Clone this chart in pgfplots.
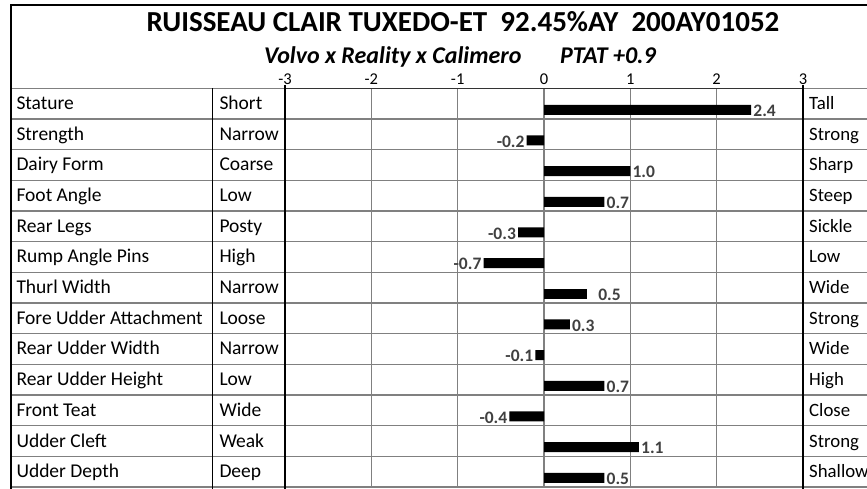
\documentclass[border=0pt]{standalone}
\usepackage{pgfplots}
\pgfplotsset{compat=1.18}
\usepackage{pgfplotstable}
\usepackage{fontspec}
\setmainfont{Carlito}
\definecolor{gridgray}{RGB}{128,128,128}
\definecolor{lblgray}{RGB}{64,64,64}

% y = row position (row index + 0.7), x = value, lbl = data label
\pgfplotstableread{
pos  val   lbl
0.7  2.4   2.4
2.7  1.0   1.0
3.7  0.7   0.7
7.7  0.3   0.3
9.7  0.7   0.7
11.7 1.1   1.1
12.7 0.7   0.5
}\pos
\pgfplotstableread{
pos  val   lbl
6.7  0.5   0.5
}\thurl
\pgfplotstableread{
pos  val   lbl
1.7  -0.2  -0.2
4.7  -0.3  -0.3
5.7  -0.7  -0.7
8.7  -0.1  -0.1
10.7 -0.4  -0.4
}\neg

\begin{document}
\begin{tikzpicture}
\useasboundingbox (0pt,0pt) rectangle (867pt,-489pt);

\begin{axis}[
  at={(285pt,-487pt)}, anchor=south west,
  width=518pt, height=398.7pt, scale only axis,
  xmin=-3, xmax=3, ymin=0, ymax=13, y dir=reverse,
  axis line style={draw=none},
  xtick={-3,-2,-1,0,1,2,3}, ytick=\empty,
  xticklabel pos=upper,
  major tick length=0pt,
  xmajorgrids, grid style={gridgray, line width=1.2pt},
  /pgf/number format/assume math mode=true,
  xticklabel style={font=\fontsize{16.5}{19}\selectfont, inner sep=0pt, anchor=south},
  xticklabel shift=3.3pt,
  xbar, bar width=10pt, bar shift=0pt,
  point meta=explicit symbolic,
  nodes near coords,
  every node near coord/.append style={font=\fontsize{17.5}{20}\selectfont\bfseries, text=lblgray, inner sep=2pt, yshift=-1pt},
  clip=false,
]
\addplot[fill=black, draw=none, nodes near coords style={anchor=west}] table[x=val, y=pos, meta=lbl] {\pos};
\addplot[fill=black, draw=none, nodes near coords style={anchor=west, xshift=9pt}] table[x=val, y=pos, meta=lbl] {\thurl};
\addplot[fill=black, draw=none, nodes near coords style={anchor=east}] table[x=val, y=pos, meta=lbl] {\neg};
\end{axis}

\begin{scope}[x=1pt, y=-1pt]
  % row lines
  \foreach \k in {0,...,13} {
    \draw[gridgray, line width=1.3pt] (11, {88.3+30.67*\k}) -- (867, {88.3+30.67*\k});
  }
  \draw[black!80, line width=1.3pt] (285, 88.3) -- (803, 88.3);
  % vertical column lines
  \draw[black, line width=1.3pt] (212.7, 88.3) -- (212.7, 489);
  \draw[black, line width=1.3pt] (285, 85) -- (285, 489);
  \draw[black, line width=1.3pt] (803, 85) -- (803, 489);
  % outer frame
  \draw[black, line width=2.6pt] (11, 489) -- (11, 5) -- (867, 5);

  % titles
  \node[anchor=base, inner sep=0pt, font=\fontsize{29}{34}\selectfont\bfseries]
    at (463, 31.7) {RUISSEAU CLAIR TUXEDO-ET\ \ 92.45\%AY\ \ 200AY01052};
  \node[anchor=base east, inner sep=0pt, font=\fontsize{24}{28}\selectfont\bfseries\itshape]
    at (521.7, 64) {Volvo x Reality x Calimero};
  \node[anchor=base west, inner sep=0pt, font=\fontsize{24}{28}\selectfont\bfseries\itshape]
    at (560, 64) {PTAT +0.9};

  % row labels
  \foreach \name/\lo/\hi [count=\i from 0] in {
    Stature/Short/Tall,
    Strength/Narrow/Strong,
    Dairy Form/Coarse/Sharp,
    Foot Angle/Low/Steep,
    Rear Legs/Posty/Sickle,
    Rump Angle Pins/High/Low,
    Thurl Width/Narrow/Wide,
    Fore Udder Attachment/Loose/Strong,
    Rear Udder Width/Narrow/Wide,
    Rear Udder Height/Low/High,
    Front Teat/Wide/Close,
    Udder Cleft/Weak/Strong,
    Udder Depth/Deep/Shallow} {
    \pgfmathsetmacro{\yb}{88.3+30.67*(\i+0.5)+6}
    \node[anchor=base west, inner sep=0pt, font=\fontsize{19.5}{22}\selectfont] at (16.3, \yb) {\name};
    \node[anchor=base west, inner sep=0pt, font=\fontsize{19.5}{22}\selectfont] at (219.3, \yb) {\lo};
    \node[anchor=base west, inner sep=0pt, font=\fontsize{18.8}{22}\selectfont] at (809, \yb) {\hi};
  }
\end{scope}
\end{tikzpicture}
\end{document}
